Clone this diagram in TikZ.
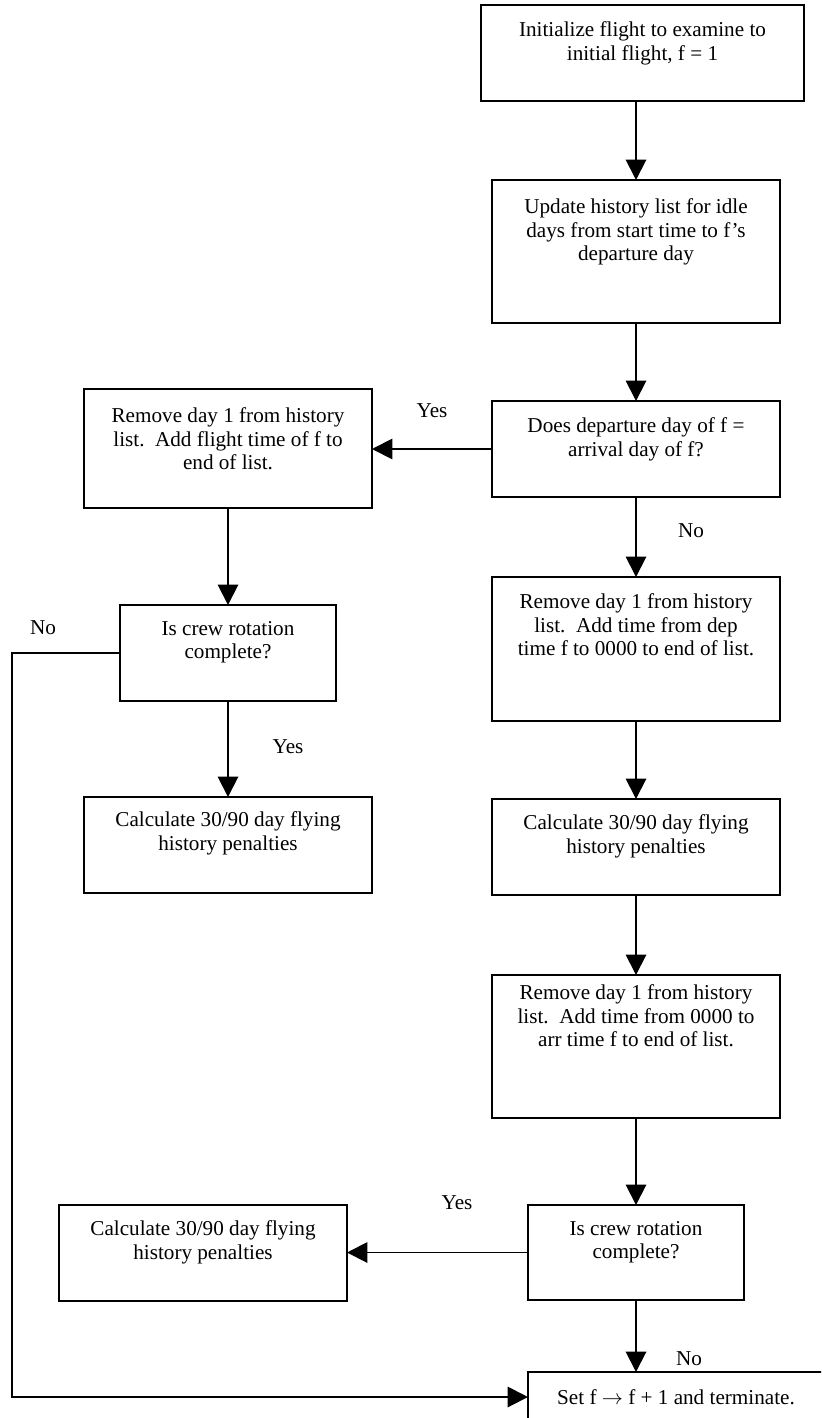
\documentclass[tikz,border=0pt]{standalone}
\usepackage{fontspec}
\setmainfont{Liberation Serif}
\usetikzlibrary{arrows.meta}
\newdimen\pxu \pxu=0.567pt
\newcommand\btext[4]{\parbox[c][#2\pxu][t]{#1\pxu}{\centering\vspace*{#3\pxu}#4\par}}
\begin{document}
\begin{tikzpicture}[x=0.567pt,y=-0.567pt,
  txt/.style={font=\fontsize{12}{13.1}\selectfont},
  box/.style={txt, draw, line width=1.1pt, inner sep=0pt, outer sep=0pt},
  arr/.style={line width=1.1pt, -{Triangle[length=11.5pt,width=11.5pt]}},
  lbl/.style={txt, inner sep=0pt}]
\useasboundingbox (0,0) rectangle (821,1418);
\clip (0,0) rectangle (821,1418);

% right column
\node[box] (b1) at (642.5,53) {\btext{323}{96}{17}{Initialize flight to examine to\\ initial flight, f = 1}};
\node[box] (b2) at (636,251.5) {\btext{288}{143}{19}{Update history list for idle\\ days from start time to f’s\\ departure day}};
\node[box] (b3) at (636,449) {\btext{288}{96}{17}{Does departure day of f =\\ arrival day of f?}};
\node[box] (r4) at (636,649) {\btext{288}{144}{17}{Remove day 1 from history\\ list.\ \ Add time from dep\\ time f to 0000 to end of list.}};
\node[box] (r5) at (636,847) {\btext{288}{96}{16}{Calculate 30/90 day flying\\ history penalties}};
\node[box] (r6) at (636,1046.5) {\btext{288}{143}{10}{Remove day 1 from history\\ list.\ \ Add time from 0000 to\\ arr time f to end of list.}};
\node[box] (r7) at (636,1252.5) {\btext{216}{95}{16}{Is crew rotation\\ complete?}};
\node[box, minimum width=296\pxu, minimum height=50\pxu] (fin) at (676,1397) {Set f $\rightarrow$ f + 1 and terminate.};

% left column
\node[box] (l1) at (228,448.5) {\btext{288}{119}{19}{Remove day 1 from history\\ list.\ \ Add flight time of f to\\ end of list.}};
\node[box] (l2) at (228,653) {\btext{216}{96}{16}{Is crew rotation\\ complete?}};
\node[box] (l3) at (228,845) {\btext{288}{96}{15}{Calculate 30/90 day flying\\ history penalties}};
\node[box] (l4) at (203,1253) {\btext{288}{96}{16}{Calculate 30/90 day flying\\ history penalties}};

% connectors
\draw[arr] (b2.north |- b1.south) -- (b2.north);
\draw[arr] (b2.south) -- (b3.north);
\draw[arr] (b3.west) -- (l1.east |- b3.west);
\draw[arr] (b3.south) -- (r4.north);
\draw[arr] (r4.south) -- (r5.north);
\draw[arr] (r5.south) -- (r6.north);
\draw[arr] (r6.south) -- (r7.north);
\draw[arr] (r7.west) -- (l4.east |- r7.west);
\draw[arr] (r7.south) -- (r7.south |- fin.north);
\draw[arr] (l1.south) -- (l2.north);
\draw[arr] (l2.south) -- (l3.north);
\coordinate (lp) at (12,653);
\draw[arr] (l2.west) -- (lp) |- (fin.west);

% labels
\node[lbl] (y1) at (432,411) {Yes};
\node[lbl] (n1) at (691,531) {No};
\node[lbl] (n2) at (43,628) {No};
\node[lbl] (y2) at (288,747) {Yes};
\node[lbl] (y3) at (457,1203) {Yes};
\node[lbl] (n3) at (689,1359) {No};
\end{tikzpicture}
\end{document}
